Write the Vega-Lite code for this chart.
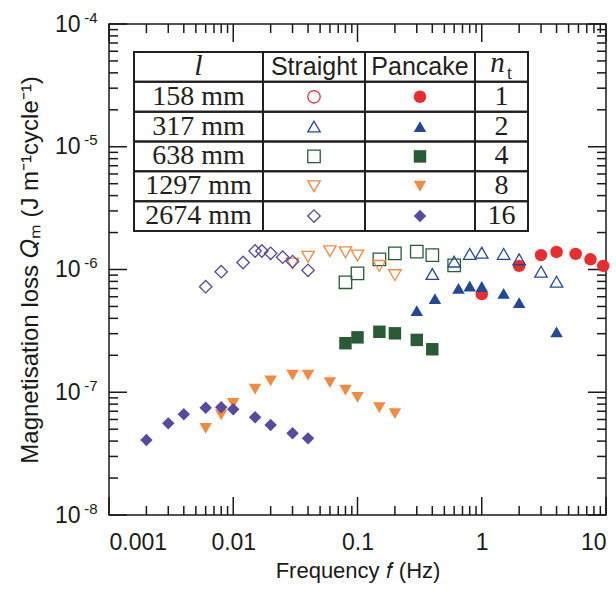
{
  "$schema": "https://vega.github.io/schema/vega-lite/v6.json",
  "width": 497,
  "height": 491,
  "autosize": {"type": "none"},
  "padding": {"left": 109, "top": 24, "right": 10, "bottom": 78},
  "background": "white",
  "config": {
    "view": {"stroke": "#1a1a1a", "strokeWidth": 1.5},
    "axis": {"domain": false, "grid": false, "labelFont": "Liberation Sans", "labelFontSize": 23, "labelColor": "#1a1a1a", "titleFont": "Liberation Sans", "titleFontSize": 22, "titleFontWeight": "normal", "titleColor": "#1a1a1a"}
  },
  "datasets": {
    "pts": [
      {"f": 1, "q": 6.3e-7, "nt": "1", "type": "Pancake"},
      {"f": 2, "q": 1.07e-6, "nt": "1", "type": "Pancake"},
      {"f": 3, "q": 1.31e-6, "nt": "1", "type": "Pancake"},
      {"f": 4, "q": 1.39e-6, "nt": "1", "type": "Pancake"},
      {"f": 5.7, "q": 1.34e-6, "nt": "1", "type": "Pancake"},
      {"f": 7.5, "q": 1.21e-6, "nt": "1", "type": "Pancake"},
      {"f": 9.5, "q": 1.07e-6, "nt": "1", "type": "Pancake"},
      {"f": 0.3, "q": 4.62e-7, "nt": "2", "type": "Pancake"},
      {"f": 0.42, "q": 5.78e-7, "nt": "2", "type": "Pancake"},
      {"f": 0.65, "q": 7.03e-7, "nt": "2", "type": "Pancake"},
      {"f": 0.8, "q": 7.34e-7, "nt": "2", "type": "Pancake"},
      {"f": 1, "q": 7.27e-7, "nt": "2", "type": "Pancake"},
      {"f": 1.5, "q": 6.4e-7, "nt": "2", "type": "Pancake"},
      {"f": 2, "q": 5.38e-7, "nt": "2", "type": "Pancake"},
      {"f": 4, "q": 3.1e-7, "nt": "2", "type": "Pancake"},
      {"f": 0.08, "q": 2.51e-7, "nt": "4", "type": "Pancake"},
      {"f": 0.1, "q": 2.8e-7, "nt": "4", "type": "Pancake"},
      {"f": 0.15, "q": 3.11e-7, "nt": "4", "type": "Pancake"},
      {"f": 0.2, "q": 3.02e-7, "nt": "4", "type": "Pancake"},
      {"f": 0.3, "q": 2.67e-7, "nt": "4", "type": "Pancake"},
      {"f": 0.4, "q": 2.24e-7, "nt": "4", "type": "Pancake"},
      {"f": 0.006, "q": 5.08e-8, "nt": "8", "type": "Pancake"},
      {"f": 0.008, "q": 6.53e-8, "nt": "8", "type": "Pancake"},
      {"f": 0.01, "q": 8.13e-8, "nt": "8", "type": "Pancake"},
      {"f": 0.015, "q": 1.06e-7, "nt": "8", "type": "Pancake"},
      {"f": 0.02, "q": 1.24e-7, "nt": "8", "type": "Pancake"},
      {"f": 0.03, "q": 1.38e-7, "nt": "8", "type": "Pancake"},
      {"f": 0.04, "q": 1.38e-7, "nt": "8", "type": "Pancake"},
      {"f": 0.06, "q": 1.2e-7, "nt": "8", "type": "Pancake"},
      {"f": 0.08, "q": 1.04e-7, "nt": "8", "type": "Pancake"},
      {"f": 0.1, "q": 9.1e-8, "nt": "8", "type": "Pancake"},
      {"f": 0.15, "q": 7.5e-8, "nt": "8", "type": "Pancake"},
      {"f": 0.2, "q": 6.7e-8, "nt": "8", "type": "Pancake"},
      {"f": 0.002, "q": 4.08e-8, "nt": "16", "type": "Pancake"},
      {"f": 0.003, "q": 5.58e-8, "nt": "16", "type": "Pancake"},
      {"f": 0.004, "q": 6.61e-8, "nt": "16", "type": "Pancake"},
      {"f": 0.006, "q": 7.48e-8, "nt": "16", "type": "Pancake"},
      {"f": 0.008, "q": 7.54e-8, "nt": "16", "type": "Pancake"},
      {"f": 0.01, "q": 7.26e-8, "nt": "16", "type": "Pancake"},
      {"f": 0.015, "q": 6.25e-8, "nt": "16", "type": "Pancake"},
      {"f": 0.02, "q": 5.41e-8, "nt": "16", "type": "Pancake"},
      {"f": 0.03, "q": 4.63e-8, "nt": "16", "type": "Pancake"},
      {"f": 0.04, "q": 4.21e-8, "nt": "16", "type": "Pancake"},
      {"f": 0.4, "q": 9.19e-7, "nt": "2", "type": "Straight"},
      {"f": 0.6, "q": 1.16e-6, "nt": "2", "type": "Straight"},
      {"f": 0.8, "q": 1.34e-6, "nt": "2", "type": "Straight"},
      {"f": 1, "q": 1.37e-6, "nt": "2", "type": "Straight"},
      {"f": 1.5, "q": 1.34e-6, "nt": "2", "type": "Straight"},
      {"f": 2, "q": 1.21e-6, "nt": "2", "type": "Straight"},
      {"f": 3, "q": 9.6e-7, "nt": "2", "type": "Straight"},
      {"f": 4, "q": 7.96e-7, "nt": "2", "type": "Straight"},
      {"f": 0.08, "q": 7.87e-7, "nt": "4", "type": "Straight"},
      {"f": 0.1, "q": 9.31e-7, "nt": "4", "type": "Straight"},
      {"f": 0.15, "q": 1.21e-6, "nt": "4", "type": "Straight"},
      {"f": 0.2, "q": 1.355e-6, "nt": "4", "type": "Straight"},
      {"f": 0.3, "q": 1.4e-6, "nt": "4", "type": "Straight"},
      {"f": 0.4, "q": 1.31e-6, "nt": "4", "type": "Straight"},
      {"f": 0.6, "q": 1.08e-6, "nt": "4", "type": "Straight"},
      {"f": 0.03, "q": 1.12e-6, "nt": "8", "type": "Straight"},
      {"f": 0.04, "q": 1.27e-6, "nt": "8", "type": "Straight"},
      {"f": 0.06, "q": 1.41e-6, "nt": "8", "type": "Straight"},
      {"f": 0.08, "q": 1.38e-6, "nt": "8", "type": "Straight"},
      {"f": 0.1, "q": 1.3e-6, "nt": "8", "type": "Straight"},
      {"f": 0.15, "q": 1.07e-6, "nt": "8", "type": "Straight"},
      {"f": 0.2, "q": 9.0e-7, "nt": "8", "type": "Straight"},
      {"f": 0.006, "q": 7.24e-7, "nt": "16", "type": "Straight"},
      {"f": 0.008, "q": 9.6e-7, "nt": "16", "type": "Straight"},
      {"f": 0.012, "q": 1.14e-6, "nt": "16", "type": "Straight"},
      {"f": 0.015, "q": 1.415e-6, "nt": "16", "type": "Straight"},
      {"f": 0.017, "q": 1.415e-6, "nt": "16", "type": "Straight"},
      {"f": 0.02, "q": 1.355e-6, "nt": "16", "type": "Straight"},
      {"f": 0.025, "q": 1.26e-6, "nt": "16", "type": "Straight"},
      {"f": 0.03, "q": 1.16e-6, "nt": "16", "type": "Straight"},
      {"f": 0.04, "q": 9.85e-7, "nt": "16", "type": "Straight"}
    ],
    "xt": [
      {"v": 0.001, "k": "M"}, {"v": 0.01, "k": "M"}, {"v": 0.1, "k": "M"}, {"v": 1, "k": "M"}, {"v": 10, "k": "M"},
      {"v": 0.002, "k": "m"}, {"v": 0.003, "k": "m"}, {"v": 0.004, "k": "m"}, {"v": 0.005, "k": "m"}, {"v": 0.006, "k": "m"}, {"v": 0.007, "k": "m"}, {"v": 0.008, "k": "m"}, {"v": 0.009, "k": "m"},
      {"v": 0.02, "k": "m"}, {"v": 0.03, "k": "m"}, {"v": 0.04, "k": "m"}, {"v": 0.05, "k": "m"}, {"v": 0.06, "k": "m"}, {"v": 0.07, "k": "m"}, {"v": 0.08, "k": "m"}, {"v": 0.09, "k": "m"},
      {"v": 0.2, "k": "m"}, {"v": 0.3, "k": "m"}, {"v": 0.4, "k": "m"}, {"v": 0.5, "k": "m"}, {"v": 0.6, "k": "m"}, {"v": 0.7, "k": "m"}, {"v": 0.8, "k": "m"}, {"v": 0.9, "k": "m"},
      {"v": 2, "k": "m"}, {"v": 3, "k": "m"}, {"v": 4, "k": "m"}, {"v": 5, "k": "m"}, {"v": 6, "k": "m"}, {"v": 7, "k": "m"}, {"v": 8, "k": "m"}, {"v": 9, "k": "m"}
    ],
    "yt": [
      {"v": 1e-8, "k": "M"}, {"v": 1e-7, "k": "M"}, {"v": 1e-6, "k": "M"}, {"v": 1e-5, "k": "M"}, {"v": 1e-4, "k": "M"},
      {"v": 2e-8, "k": "m"}, {"v": 3e-8, "k": "m"}, {"v": 4e-8, "k": "m"}, {"v": 5e-8, "k": "m"}, {"v": 6e-8, "k": "m"}, {"v": 7e-8, "k": "m"}, {"v": 8e-8, "k": "m"}, {"v": 9e-8, "k": "m"},
      {"v": 2e-7, "k": "m"}, {"v": 3e-7, "k": "m"}, {"v": 4e-7, "k": "m"}, {"v": 5e-7, "k": "m"}, {"v": 6e-7, "k": "m"}, {"v": 7e-7, "k": "m"}, {"v": 8e-7, "k": "m"}, {"v": 9e-7, "k": "m"},
      {"v": 2e-6, "k": "m"}, {"v": 3e-6, "k": "m"}, {"v": 4e-6, "k": "m"}, {"v": 5e-6, "k": "m"}, {"v": 6e-6, "k": "m"}, {"v": 7e-6, "k": "m"}, {"v": 8e-6, "k": "m"}, {"v": 9e-6, "k": "m"},
      {"v": 2e-5, "k": "m"}, {"v": 3e-5, "k": "m"}, {"v": 4e-5, "k": "m"}, {"v": 5e-5, "k": "m"}, {"v": 6e-5, "k": "m"}, {"v": 7e-5, "k": "m"}, {"v": 8e-5, "k": "m"}, {"v": 9e-5, "k": "m"}
    ],
    "tbl": [
      {"nt": "h", "len": "l"},
      {"nt": "1", "len": "158 mm"},
      {"nt": "2", "len": "317 mm"},
      {"nt": "4", "len": "638 mm"},
      {"nt": "8", "len": "1297 mm"},
      {"nt": "16", "len": "2674 mm"}
    ]
  },
  "layer": [
    {
      "data": {"name": "xt"},
      "transform": [{"filter": "datum.k == 'M'"}],
      "mark": {"type": "tick", "orient": "vertical", "size": 18, "thickness": 1.5, "yOffset": -9, "color": "#1a1a1a", "opacity": 1},
      "encoding": {
        "x": {"field": "v", "type": "quantitative", "scale": {"type": "log", "domain": [0.001, 10], "nice": false}, "axis": null},
        "y": {"datum": 1e-8, "type": "quantitative", "scale": {"type": "log", "domain": [1e-8, 1e-4], "nice": false}, "axis": null}
      }
    },
    {
      "data": {"name": "xt"},
      "transform": [{"filter": "datum.k == 'm'"}],
      "mark": {"type": "tick", "orient": "vertical", "size": 9, "thickness": 1.5, "yOffset": -4.5, "color": "#1a1a1a", "opacity": 1},
      "encoding": {
        "x": {"field": "v", "type": "quantitative", "scale": {"type": "log", "domain": [0.001, 10], "nice": false}, "axis": null},
        "y": {"datum": 1e-8, "type": "quantitative", "scale": {"type": "log", "domain": [1e-8, 1e-4], "nice": false}, "axis": null}
      }
    },
    {
      "data": {"name": "xt"},
      "transform": [{"filter": "datum.k == 'M'"}],
      "mark": {"type": "tick", "orient": "vertical", "size": 18, "thickness": 1.5, "yOffset": 9, "color": "#1a1a1a", "opacity": 1},
      "encoding": {
        "x": {"field": "v", "type": "quantitative", "scale": {"type": "log", "domain": [0.001, 10], "nice": false}, "axis": null},
        "y": {"datum": 1e-4, "type": "quantitative", "scale": {"type": "log", "domain": [1e-8, 1e-4], "nice": false}, "axis": null}
      }
    },
    {
      "data": {"name": "xt"},
      "transform": [{"filter": "datum.k == 'm'"}],
      "mark": {"type": "tick", "orient": "vertical", "size": 9, "thickness": 1.5, "yOffset": 4.5, "color": "#1a1a1a", "opacity": 1},
      "encoding": {
        "x": {"field": "v", "type": "quantitative", "scale": {"type": "log", "domain": [0.001, 10], "nice": false}, "axis": null},
        "y": {"datum": 1e-4, "type": "quantitative", "scale": {"type": "log", "domain": [1e-8, 1e-4], "nice": false}, "axis": null}
      }
    },
    {
      "data": {"name": "yt"},
      "transform": [{"filter": "datum.k == 'M'"}],
      "mark": {"type": "tick", "orient": "horizontal", "size": 18, "thickness": 1.5, "xOffset": 9, "color": "#1a1a1a", "opacity": 1},
      "encoding": {
        "y": {"field": "v", "type": "quantitative", "scale": {"type": "log", "domain": [1e-8, 1e-4], "nice": false}, "axis": null},
        "x": {"datum": 0.001, "type": "quantitative", "scale": {"type": "log", "domain": [0.001, 10], "nice": false}, "axis": null}
      }
    },
    {
      "data": {"name": "yt"},
      "transform": [{"filter": "datum.k == 'm'"}],
      "mark": {"type": "tick", "orient": "horizontal", "size": 9, "thickness": 1.5, "xOffset": 4.5, "color": "#1a1a1a", "opacity": 1},
      "encoding": {
        "y": {"field": "v", "type": "quantitative", "scale": {"type": "log", "domain": [1e-8, 1e-4], "nice": false}, "axis": null},
        "x": {"datum": 0.001, "type": "quantitative", "scale": {"type": "log", "domain": [0.001, 10], "nice": false}, "axis": null}
      }
    },
    {
      "data": {"name": "yt"},
      "transform": [{"filter": "datum.k == 'M'"}],
      "mark": {"type": "tick", "orient": "horizontal", "size": 18, "thickness": 1.5, "xOffset": -9, "color": "#1a1a1a", "opacity": 1},
      "encoding": {
        "y": {"field": "v", "type": "quantitative", "scale": {"type": "log", "domain": [1e-8, 1e-4], "nice": false}, "axis": null},
        "x": {"datum": 10, "type": "quantitative", "scale": {"type": "log", "domain": [0.001, 10], "nice": false}, "axis": null}
      }
    },
    {
      "data": {"name": "yt"},
      "transform": [{"filter": "datum.k == 'm'"}],
      "mark": {"type": "tick", "orient": "horizontal", "size": 9, "thickness": 1.5, "xOffset": -4.5, "color": "#1a1a1a", "opacity": 1},
      "encoding": {
        "y": {"field": "v", "type": "quantitative", "scale": {"type": "log", "domain": [1e-8, 1e-4], "nice": false}, "axis": null},
        "x": {"datum": 10, "type": "quantitative", "scale": {"type": "log", "domain": [0.001, 10], "nice": false}, "axis": null}
      }
    },
    {
      "data": {"name": "pts"},
      "transform": [{"filter": "datum.type == 'Pancake'"}],
      "mark": {"type": "point", "filled": true, "size": 155, "opacity": 1},
      "encoding": {
        "x": {"field": "f", "type": "quantitative", "scale": {"type": "log", "domain": [0.001, 10], "nice": false},
              "axis": {"orient": "bottom", "values": [0.001, 0.01, 0.1, 1, 10], "format": "~g", "tickSize": 0, "tickColor": "transparent", "labelPadding": 16, "title": "Frequency 𝑓 (Hz)", "titlePadding": 6}},
        "y": {"field": "q", "type": "quantitative", "scale": {"type": "log", "domain": [1e-8, 1e-4], "nice": false},
              "axis": {"orient": "left", "values": [1e-8, 1e-7, 1e-6, 1e-5, 1e-4], "labelExpr": "'10'", "tickSize": 0, "tickColor": "transparent", "labelPadding": 29, "title": "Magnetisation loss 𝑄ₘ (J m⁻¹cycle⁻¹)", "titleFontSize": 24, "titlePadding": 12}},
        "shape": {"field": "nt", "type": "nominal", "scale": {"domain": ["1", "2", "4", "8", "16"], "range": ["circle", "triangle-up", "square", "triangle-down", "diamond"]}, "legend": null},
        "color": {"field": "nt", "type": "nominal", "scale": {"domain": ["1", "2", "4", "8", "16"], "range": ["#ec2b2e", "#22489c", "#285c34", "#f58a3c", "#574aa0"]}, "legend": null}
      }
    },
    {
      "data": {"name": "pts"},
      "transform": [{"filter": "datum.type == 'Straight'"}],
      "mark": {"type": "point", "filled": false, "size": 155, "strokeWidth": 1.3, "opacity": 1},
      "encoding": {
        "x": {"field": "f", "type": "quantitative", "scale": {"type": "log", "domain": [0.001, 10], "nice": false}, "axis": null},
        "y": {"field": "q", "type": "quantitative", "scale": {"type": "log", "domain": [1e-8, 1e-4], "nice": false}, "axis": null},
        "shape": {"field": "nt", "type": "nominal", "scale": {"domain": ["1", "2", "4", "8", "16"], "range": ["circle", "triangle-up", "square", "triangle-down", "diamond"]}, "legend": null},
        "color": {"field": "nt", "type": "nominal", "scale": {"domain": ["1", "2", "4", "8", "16"], "range": ["#ec2b2e", "#22489c", "#285c34", "#f58a3c", "#574aa0"]}, "legend": null}
      }
    },
    {
      "data": {"name": "pts"},
      "mark": {"type": "point", "opacity": 0},
      "encoding": {
        "x": {"field": "f", "type": "quantitative", "scale": {"type": "log", "domain": [0.001, 10], "nice": false}, "axis": null},
        "y": {"field": "q", "type": "quantitative", "scale": {"type": "log", "domain": [1e-8, 1e-4], "nice": false},
              "axis": {"orient": "left", "values": [1e-8, 1e-7, 1e-6, 1e-5, 1e-4], "labelExpr": "'-' + round(-log(datum.value)/LN10)", "labelFontSize": 15, "tickSize": 0, "tickColor": "transparent", "labelPadding": 12, "labelOffset": -7, "title": null}}
      }
    },
    {
      "data": {"name": "tbl"},
      "mark": {"type": "rect", "filled": false, "color": "#231f20", "strokeWidth": 2},
      "encoding": {
        "x": {"datum": "c1", "type": "nominal", "scale": {"type": "band", "domain": ["c1"], "range": [25, 154], "paddingInner": 0, "paddingOuter": 0}, "axis": null},
        "y": {"field": "nt", "type": "nominal", "scale": {"type": "band", "domain": ["h", "1", "2", "4", "8", "16"], "range": [28, 207], "paddingInner": 0, "paddingOuter": 0}, "axis": null}
      }
    },
    {
      "data": {"name": "tbl"},
      "transform": [{"filter": "datum.nt != 'h'"}],
      "mark": {"type": "text", "font": "Liberation Serif", "fontSize": 28, "color": "#231f20"},
      "encoding": {
        "x": {"datum": "c1", "type": "nominal", "scale": {"type": "band", "domain": ["c1"], "range": [25, 154], "paddingInner": 0, "paddingOuter": 0}, "axis": null},
        "y": {"field": "nt", "type": "nominal", "scale": {"type": "band", "domain": ["h", "1", "2", "4", "8", "16"], "range": [28, 207], "paddingInner": 0, "paddingOuter": 0}, "axis": null},
        "text": {"field": "len"}
      }
    },
    {
      "data": {"name": "tbl"},
      "transform": [{"filter": "datum.nt == 'h'"}],
      "mark": {"type": "text", "font": "Liberation Serif", "fontStyle": "italic", "fontSize": 30, "color": "#231f20", "dy": -1},
      "encoding": {
        "x": {"datum": "c1", "type": "nominal", "scale": {"type": "band", "domain": ["c1"], "range": [25, 154], "paddingInner": 0, "paddingOuter": 0}, "axis": null},
        "y": {"field": "nt", "type": "nominal", "scale": {"type": "band", "domain": ["h", "1", "2", "4", "8", "16"], "range": [28, 207], "paddingInner": 0, "paddingOuter": 0}, "axis": null},
        "text": {"field": "len"}
      }
    },
    {
      "data": {"name": "tbl"},
      "mark": {"type": "rect", "filled": false, "color": "#231f20", "strokeWidth": 2},
      "encoding": {
        "x": {"datum": "c2", "type": "nominal", "scale": {"type": "band", "domain": ["c2"], "range": [154, 256], "paddingInner": 0, "paddingOuter": 0}, "axis": null},
        "y": {"field": "nt", "type": "nominal", "scale": {"type": "band", "domain": ["h", "1", "2", "4", "8", "16"], "range": [28, 207], "paddingInner": 0, "paddingOuter": 0}, "axis": null}
      }
    },
    {
      "data": {"name": "tbl"},
      "transform": [{"filter": "datum.nt == 'h'"}],
      "mark": {"type": "text", "text": "Straight", "font": "Liberation Sans", "fontSize": 25, "color": "#231f20"},
      "encoding": {
        "x": {"datum": "c2", "type": "nominal", "scale": {"type": "band", "domain": ["c2"], "range": [154, 256], "paddingInner": 0, "paddingOuter": 0}, "axis": null},
        "y": {"field": "nt", "type": "nominal", "scale": {"type": "band", "domain": ["h", "1", "2", "4", "8", "16"], "range": [28, 207], "paddingInner": 0, "paddingOuter": 0}, "axis": null}
      }
    },
    {
      "data": {"name": "tbl"},
      "transform": [{"filter": "datum.nt != 'h'"}],
      "mark": {"type": "point", "filled": false, "size": 155, "strokeWidth": 1.3, "opacity": 1},
      "encoding": {
        "x": {"datum": "c2", "type": "nominal", "scale": {"type": "band", "domain": ["c2"], "range": [154, 256], "paddingInner": 0, "paddingOuter": 0}, "axis": null},
        "y": {"field": "nt", "type": "nominal", "scale": {"type": "band", "domain": ["h", "1", "2", "4", "8", "16"], "range": [28, 207], "paddingInner": 0, "paddingOuter": 0}, "axis": null},
        "shape": {"field": "nt", "type": "nominal", "scale": {"domain": ["1", "2", "4", "8", "16"], "range": ["circle", "triangle-up", "square", "triangle-down", "diamond"]}, "legend": null},
        "color": {"field": "nt", "type": "nominal", "scale": {"domain": ["1", "2", "4", "8", "16"], "range": ["#ec2b2e", "#22489c", "#285c34", "#f58a3c", "#574aa0"]}, "legend": null}
      }
    },
    {
      "data": {"name": "tbl"},
      "mark": {"type": "rect", "filled": false, "color": "#231f20", "strokeWidth": 2},
      "encoding": {
        "x": {"datum": "c3", "type": "nominal", "scale": {"type": "band", "domain": ["c3"], "range": [256, 366], "paddingInner": 0, "paddingOuter": 0}, "axis": null},
        "y": {"field": "nt", "type": "nominal", "scale": {"type": "band", "domain": ["h", "1", "2", "4", "8", "16"], "range": [28, 207], "paddingInner": 0, "paddingOuter": 0}, "axis": null}
      }
    },
    {
      "data": {"name": "tbl"},
      "transform": [{"filter": "datum.nt == 'h'"}],
      "mark": {"type": "text", "text": "Pancake", "font": "Liberation Sans", "fontSize": 25, "color": "#231f20"},
      "encoding": {
        "x": {"datum": "c3", "type": "nominal", "scale": {"type": "band", "domain": ["c3"], "range": [256, 366], "paddingInner": 0, "paddingOuter": 0}, "axis": null},
        "y": {"field": "nt", "type": "nominal", "scale": {"type": "band", "domain": ["h", "1", "2", "4", "8", "16"], "range": [28, 207], "paddingInner": 0, "paddingOuter": 0}, "axis": null}
      }
    },
    {
      "data": {"name": "tbl"},
      "transform": [{"filter": "datum.nt != 'h'"}],
      "mark": {"type": "point", "filled": true, "size": 155, "opacity": 1},
      "encoding": {
        "x": {"datum": "c3", "type": "nominal", "scale": {"type": "band", "domain": ["c3"], "range": [256, 366], "paddingInner": 0, "paddingOuter": 0}, "axis": null},
        "y": {"field": "nt", "type": "nominal", "scale": {"type": "band", "domain": ["h", "1", "2", "4", "8", "16"], "range": [28, 207], "paddingInner": 0, "paddingOuter": 0}, "axis": null},
        "shape": {"field": "nt", "type": "nominal", "scale": {"domain": ["1", "2", "4", "8", "16"], "range": ["circle", "triangle-up", "square", "triangle-down", "diamond"]}, "legend": null},
        "color": {"field": "nt", "type": "nominal", "scale": {"domain": ["1", "2", "4", "8", "16"], "range": ["#ec2b2e", "#22489c", "#285c34", "#f58a3c", "#574aa0"]}, "legend": null}
      }
    },
    {
      "data": {"name": "tbl"},
      "mark": {"type": "rect", "filled": false, "color": "#231f20", "strokeWidth": 2},
      "encoding": {
        "x": {"datum": "c4", "type": "nominal", "scale": {"type": "band", "domain": ["c4"], "range": [366, 419], "paddingInner": 0, "paddingOuter": 0}, "axis": null},
        "y": {"field": "nt", "type": "nominal", "scale": {"type": "band", "domain": ["h", "1", "2", "4", "8", "16"], "range": [28, 207], "paddingInner": 0, "paddingOuter": 0}, "axis": null}
      }
    },
    {
      "data": {"name": "tbl"},
      "transform": [{"filter": "datum.nt != 'h'"}],
      "mark": {"type": "text", "font": "Liberation Serif", "fontSize": 28, "color": "#231f20"},
      "encoding": {
        "x": {"datum": "c4", "type": "nominal", "scale": {"type": "band", "domain": ["c4"], "range": [366, 419], "paddingInner": 0, "paddingOuter": 0}, "axis": null},
        "y": {"field": "nt", "type": "nominal", "scale": {"type": "band", "domain": ["h", "1", "2", "4", "8", "16"], "range": [28, 207], "paddingInner": 0, "paddingOuter": 0}, "axis": null},
        "text": {"field": "nt"}
      }
    },
    {
      "data": {"name": "tbl"},
      "transform": [{"filter": "datum.nt == 'h'"}],
      "mark": {"type": "text", "text": "n", "font": "Liberation Serif", "fontStyle": "italic", "fontSize": 29, "color": "#231f20", "dx": -4, "dy": -4},
      "encoding": {
        "x": {"datum": "c4", "type": "nominal", "scale": {"type": "band", "domain": ["c4"], "range": [366, 419], "paddingInner": 0, "paddingOuter": 0}, "axis": null},
        "y": {"field": "nt", "type": "nominal", "scale": {"type": "band", "domain": ["h", "1", "2", "4", "8", "16"], "range": [28, 207], "paddingInner": 0, "paddingOuter": 0}, "axis": null}
      }
    },
    {
      "data": {"name": "tbl"},
      "transform": [{"filter": "datum.nt == 'h'"}],
      "mark": {"type": "text", "text": "t", "font": "Liberation Serif", "fontSize": 18, "color": "#231f20", "dx": 8, "dy": 7},
      "encoding": {
        "x": {"datum": "c4", "type": "nominal", "scale": {"type": "band", "domain": ["c4"], "range": [366, 419], "paddingInner": 0, "paddingOuter": 0}, "axis": null},
        "y": {"field": "nt", "type": "nominal", "scale": {"type": "band", "domain": ["h", "1", "2", "4", "8", "16"], "range": [28, 207], "paddingInner": 0, "paddingOuter": 0}, "axis": null}
      }
    }
  ],
  "resolve": {"scale": {"x": "independent", "y": "independent"}, "axis": {"x": "independent", "y": "independent"}}
}
